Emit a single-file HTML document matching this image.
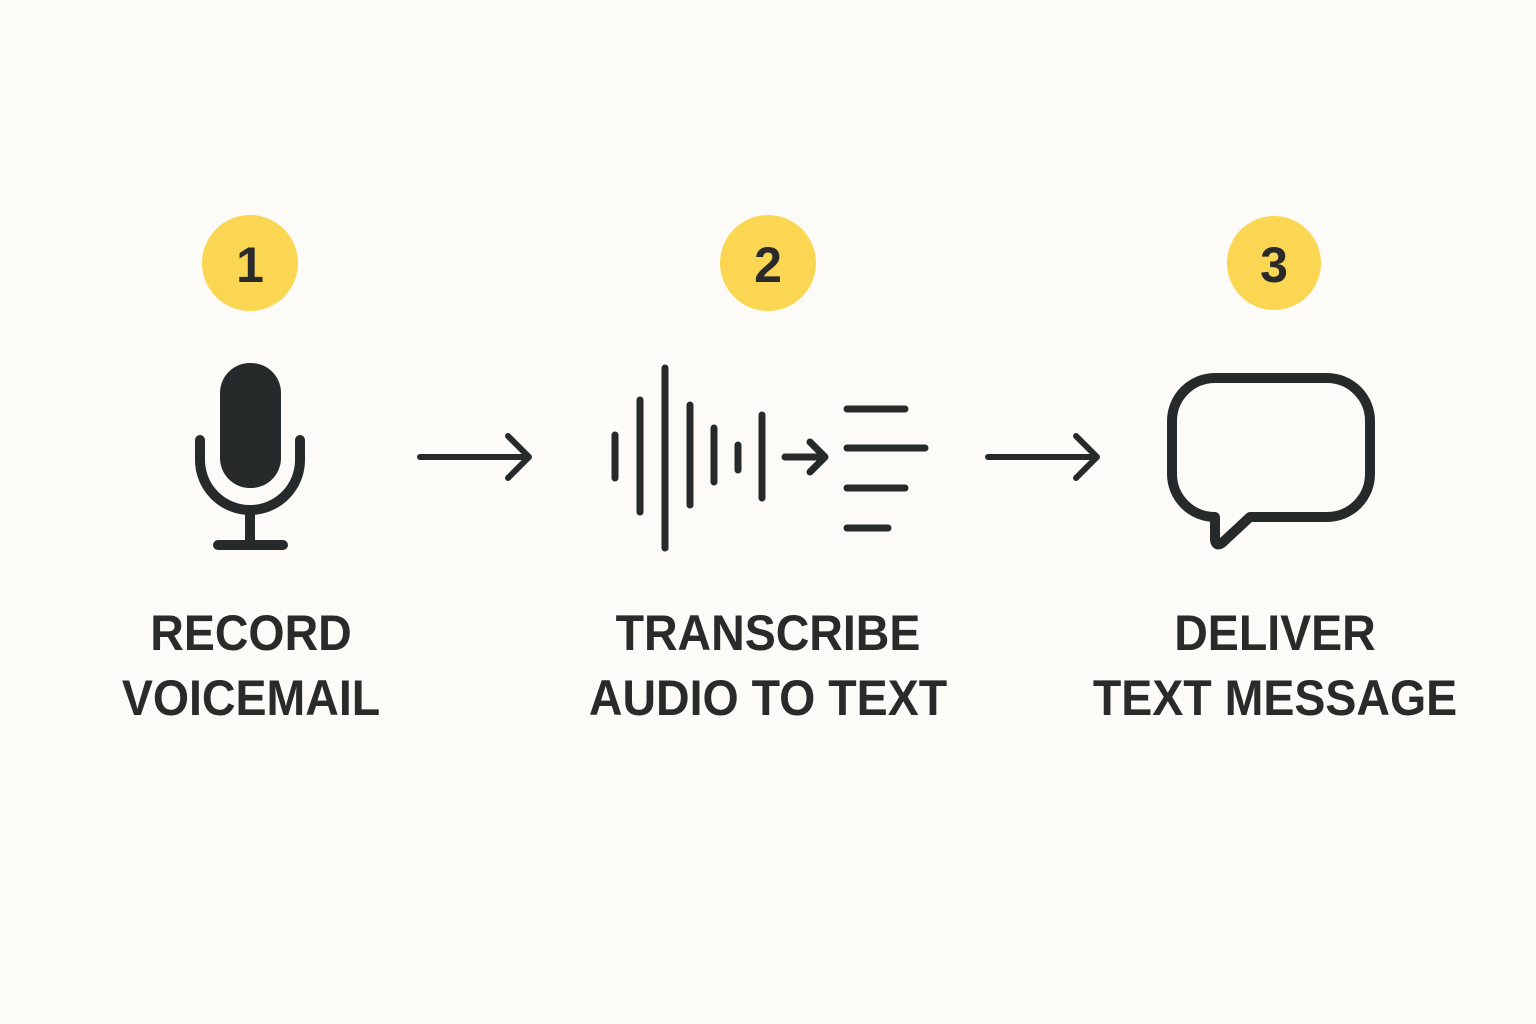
<!DOCTYPE html>
<html><head><meta charset="utf-8"><style>
html,body{margin:0;padding:0;background:#fcfbf7;}
body{width:1536px;height:1024px;position:relative;overflow:hidden;font-family:"Liberation Sans",sans-serif;}
.lbl{position:absolute;width:500px;text-align:center;font-weight:bold;font-size:50px;line-height:65px;color:#2a2a2a;letter-spacing:0;top:601px;transform:scaleX(0.93);}
</style></head><body>
<svg width="1536" height="1024" style="position:absolute;left:0;top:0">
<g fill="#fbd653"><circle cx="250" cy="263" r="48"/><circle cx="768" cy="263" r="48"/><circle cx="1274" cy="263" r="47"/></g>
<g font-family="Liberation Sans" font-weight="bold" font-size="50" fill="#2a2a2a" text-anchor="middle">
<text x="250" y="282">1</text><text x="768" y="282">2</text><text x="1274" y="282">3</text></g>
<g stroke="#272a2a" stroke-width="10" fill="none" stroke-linecap="round" stroke-linejoin="round">
<rect x="220" y="363" width="61" height="125" rx="30" fill="#272a2a" stroke="none"/>
<path d="M200 440 V460 A50 50 0 0 0 300 460 V440"/>
<line x1="250" y1="512" x2="250" y2="545"/><line x1="218" y1="545" x2="283" y2="545"/>
<g stroke-width="6">
<path d="M420 457 H529 M508 436 L529 457 L508 478"/>
<path d="M988 457 H1097 M1076 436 L1097 457 L1076 478"/>
</g>
<g stroke-width="7">
<line x1="615" y1="435" x2="615" y2="478"/><line x1="640" y1="400" x2="640" y2="512"/>
<line x1="665" y1="368" x2="665" y2="548"/><line x1="690" y1="405" x2="690" y2="505"/>
<line x1="714" y1="428" x2="714" y2="482"/><line x1="738" y1="445" x2="738" y2="470"/>
<line x1="762" y1="415" x2="762" y2="498"/>
<path d="M785 457 H825 M810 442 L825 457 L810 472"/>
<line x1="847" y1="409" x2="905" y2="409"/><line x1="847" y1="448" x2="925" y2="448"/>
<line x1="847" y1="488" x2="905" y2="488"/><line x1="847" y1="528" x2="888" y2="528"/>
</g>
<path d="M1250 517 H1327 A43 43 0 0 0 1370 474 V421 A43 43 0 0 0 1327 378 H1215 A43 43 0 0 0 1172 421 V474 A43 43 0 0 0 1215 517 V540 Q1216 547 1222 543 Z"/>
</g>
</svg>
<div class="lbl" style="left:1px">RECORD<br>VOICEMAIL</div>
<div class="lbl" style="left:518px">TRANSCRIBE<br>AUDIO TO TEXT</div>
<div class="lbl" style="left:1025px">DELIVER<br>TEXT MESSAGE</div>
</body></html>
